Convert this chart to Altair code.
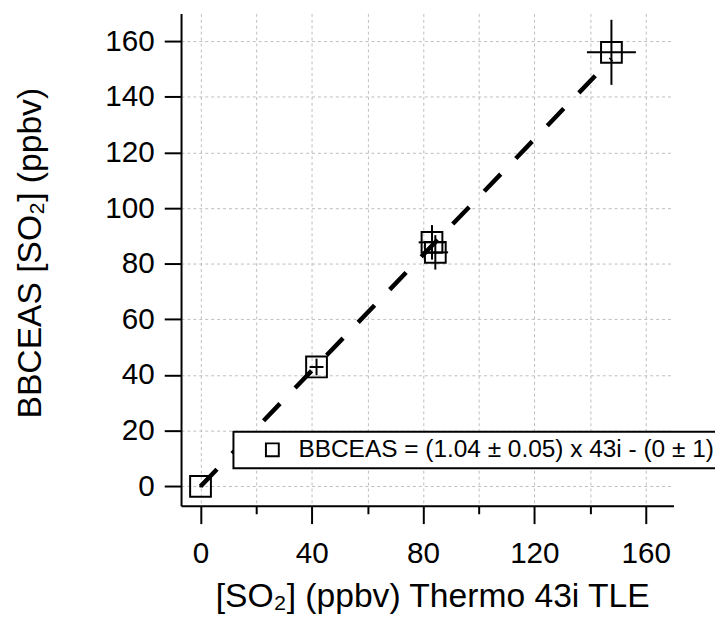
import altair as alt
import pandas as pd

# Data
x_vals = [0.0, 41.7, 83.2, 84.4, 147.7]
y_vals = [0.0, 42.9, 87.7, 84.1, 156.0]
x_err = [0.3, 2.5, 4.8, 4.6, 8.8]
y_err = [0.3, 3.0, 6.2, 6.2, 11.7]
fit_x = [0.0, 147.7]
fit_y = [0.0, 153.6]
legend_label = "BBCEAS = (1.04 ± 0.05) x 43i - (0 ± 1)"
x_ticks = [0, 20, 40, 60, 80, 100, 120, 140, 160]
y_ticks = [0, 20, 40, 60, 80, 100, 120, 140, 160]
domain = [-7, 170]

pts = pd.DataFrame({
    "x": x_vals,
    "y": y_vals,
    "xlo": [a - b for a, b in zip(x_vals, x_err)],
    "xhi": [a + b for a, b in zip(x_vals, x_err)],
    "ylo": [a - b for a, b in zip(y_vals, y_err)],
    "yhi": [a + b for a, b in zip(y_vals, y_err)],
    "series": [legend_label] * len(x_vals),
})
fit = pd.DataFrame({"x": fit_x, "y": fit_y})

FONT = "Liberation Sans"

xscale = alt.Scale(domain=domain, nice=False, zero=False)
yscale = alt.Scale(domain=domain, nice=False, zero=False)

xaxis = alt.Axis(
    values=x_ticks,
    labelExpr="datum.value % 40 === 0 ? datum.label : ''",
    tickSize={"condition": {"test": "datum.value % 40 === 0", "value": 18}, "value": 8},
    title="[SO₂] (ppbv) Thermo 43i TLE",
    labelFontSize=30,
    titleFontSize=34,
    labelPadding=15,
    titlePadding=12,
    titleX=254,
)
yaxis = alt.Axis(
    values=y_ticks,
    tickSize=17,
    title="BBCEAS [SO₂] (ppbv)",
    labelFontSize=30,
    titleFontSize=34,
    labelPadding=10,
    titlePadding=58,
    titleY=242,
)

fit_line = alt.Chart(fit).mark_line(
    color="black", strokeWidth=4.5, strokeDash=[24, 22]
).encode(
    x=alt.X("x:Q", scale=xscale, axis=xaxis),
    y=alt.Y("y:Q", scale=yscale, axis=yaxis),
)

vbars = alt.Chart(pts).mark_rule(color="black", strokeWidth=2).encode(
    x=alt.X("x:Q", scale=xscale),
    y=alt.Y("ylo:Q", scale=yscale),
    y2="yhi:Q",
)
hbars = alt.Chart(pts).mark_rule(color="black", strokeWidth=2).encode(
    x=alt.X("xlo:Q", scale=xscale),
    x2="xhi:Q",
    y=alt.Y("y:Q", scale=yscale),
)

points = alt.Chart(pts).mark_point(
    filled=False, size=441, strokeWidth=2, color="black", opacity=1
).encode(
    x=alt.X("x:Q", scale=xscale),
    y=alt.Y("y:Q", scale=yscale),
    shape=alt.Shape(
        "series:N",
        scale=alt.Scale(range=["square"]),
        legend=alt.Legend(
            title=None,
            orient="none",
            legendX=53,
            legendY=423,
            symbolType="square",
            symbolSize=169,
            symbolStrokeWidth=2,
            symbolStrokeColor="black",
            symbolFillColor="transparent",
            symbolOffset=21,
            labelOffset=14,
            labelFontSize=24.7,
            labelFont=FONT,
            labelColor="black",
            labelLimit=800,
            padding=6,
            strokeColor="black",
            fillColor="white",
        ),
    ),
)

chart = alt.layer(fit_line, vbars, hbars, points).properties(
    width=498,
    height=498,
    autosize=alt.AutoSizeParams(type="none"),
    padding={"left": 175, "top": 2, "right": 42, "bottom": 109},
).configure_view(
    stroke=None
).configure_axis(
    domainColor="black",
    domainWidth=2,
    tickColor="black",
    tickWidth=2,
    labelColor="black",
    titleColor="black",
    labelFont=FONT,
    titleFont=FONT,
    titleFontWeight="normal",
    gridColor="#bdbdbd",
    gridDash=[3, 3],
    gridWidth=1,
).configure_legend(
    strokeWidth=2,
)

chart.save("out.html", embed_options={"renderer": "svg", "actions": False})
